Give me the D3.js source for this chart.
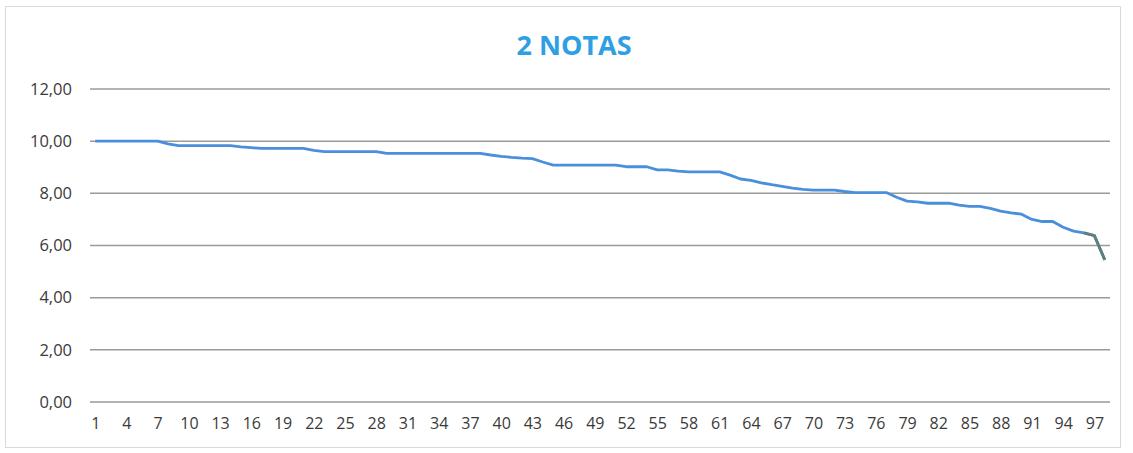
<!DOCTYPE html>
<html>
<head>
<meta charset="utf-8">
<script src="https://cdn.jsdelivr.net/npm/d3@7"></script>
<style>
  html, body { margin: 0; padding: 0; background: #fff; }
  svg { display: block; }
</style>
</head>
<body>
<svg id="chart" width="1133" height="453"></svg>
<script>
const title = "2 NOTAS";
const categories = d3.range(1, 99);
const values = [
  10.00, 10.00, 10.00, 10.00, 10.00, 10.00, 10.00, 9.90, 9.83, 9.83,
  9.83, 9.83, 9.83, 9.83, 9.78, 9.75, 9.72, 9.72, 9.72, 9.72,
  9.72, 9.65, 9.60, 9.60, 9.60, 9.60, 9.60, 9.60, 9.53, 9.53,
  9.53, 9.53, 9.53, 9.53, 9.53, 9.53, 9.53, 9.53, 9.47, 9.42,
  9.38, 9.35, 9.33, 9.20, 9.08, 9.08, 9.08, 9.08, 9.08, 9.08,
  9.08, 9.02, 9.02, 9.02, 8.90, 8.90, 8.85, 8.82, 8.82, 8.82,
  8.82, 8.70, 8.55, 8.50, 8.40, 8.33, 8.27, 8.20, 8.15, 8.12,
  8.12, 8.12, 8.07, 8.03, 8.03, 8.03, 8.03, 7.85, 7.70, 7.67,
  7.62, 7.62, 7.62, 7.55, 7.50, 7.50, 7.42, 7.32, 7.25, 7.20,
  7.00, 6.92, 6.92, 6.70, 6.55, 6.48, 6.38, 5.45
];
const yTicks = [0, 2, 4, 6, 8, 10, 12];
const xTickEvery = 3;

const svg = d3.select("#chart");
const W = 1133, H = 453;
const m = { left: 90, right: 23, top: 89, bottom: 51 };

svg.append("rect")
  .attr("x", 5.5).attr("y", 6.5)
  .attr("width", 1115).attr("height", 441)
  .attr("fill", "#fff").attr("stroke", "#d9d9d9").attr("stroke-width", 1);

const x = d3.scalePoint()
  .domain(categories)
  .range([m.left, W - m.right])
  .padding(0.5);

const y = d3.scaleLinear()
  .domain([0, 12])
  .range([H - m.bottom, m.top]);

// gridlines
svg.append("g")
  .selectAll("line")
  .data(yTicks)
  .join("line")
  .attr("x1", m.left).attr("x2", W - m.right)
  .attr("y1", d => y(d)).attr("y2", d => y(d))
  .attr("stroke", "#9a9a9a").attr("stroke-width", 1.5);

const fontFam = "'Open Sans', 'Liberation Sans', sans-serif";

// y axis labels
const fmt = v => d3.format(".2f")(v).replace(".", ",");
const yAxis = d3.axisLeft(y).tickValues(yTicks).tickFormat(fmt).tickSize(0).tickPadding(18);
svg.append("g")
  .attr("transform", `translate(${m.left},0)`)
  .call(yAxis)
  .call(g => g.select(".domain").remove())
  .selectAll("text")
  .attr("font-family", fontFam)
  .attr("font-size", 16.5)
  .attr("fill", "#3a3a3a");

// x axis labels
const xAxis = d3.axisBottom(x)
  .tickValues(categories.filter((d, i) => i % xTickEvery === 0))
  .tickSize(0).tickPadding(16);
svg.append("g")
  .attr("transform", `translate(0,${H - m.bottom})`)
  .call(xAxis)
  .call(g => g.select(".domain").remove())
  .selectAll("text")
  .attr("font-family", fontFam)
  .attr("font-size", 16)
  .attr("fill", "#3a3a3a");

// line
const data = categories.map((c, i) => ({ c, v: values[i] }));
const line = d3.line().x(d => x(d.c)).y(d => y(d.v));
svg.append("path")
  .datum(data)
  .attr("fill", "none")
  .attr("stroke", "#4a8fdc")
  .attr("stroke-width", 2.8)
  .attr("stroke-linejoin", "round")
  .attr("d", line);
// darker tail segment
svg.append("path")
  .datum(data.slice(-3))
  .attr("fill", "none")
  .attr("stroke", "#5f7f78")
  .attr("stroke-width", 2.8)
  .attr("stroke-linejoin", "round")
  .attr("d", line);

// title
svg.append("text")
  .attr("x", 574).attr("y", 55)
  .attr("text-anchor", "middle")
  .attr("font-family", fontFam)
  .attr("font-weight", "bold")
  .attr("font-size", 27)
  .attr("fill", "#2f9fe3")
  .text(title);
</script>
</body>
</html>
